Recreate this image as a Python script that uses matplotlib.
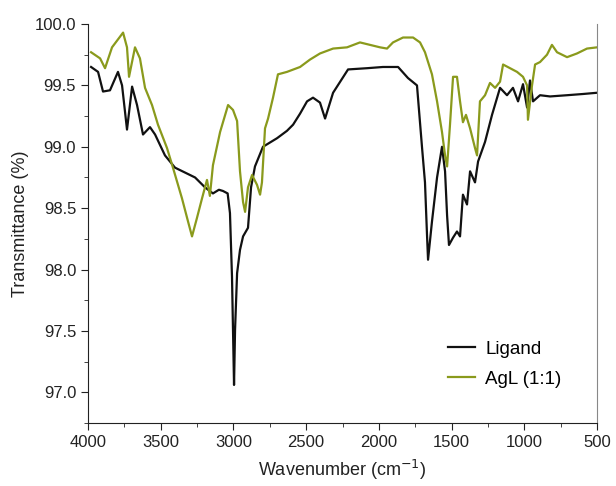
import matplotlib
matplotlib.use('Agg')
import matplotlib.pyplot as plt
from matplotlib.ticker import MultipleLocator, FormatStrFormatter

plt.rcParams['font.family'] = ['Liberation Sans', 'DejaVu Sans']

# ---- data ----
ligand_wn = [3979, 3931, 3897, 3849, 3794, 3766, 3732, 3697, 3663, 3622, 3574, 3539,
             3471, 3402, 3333, 3264, 3196, 3141, 3100, 3072, 3040, 3024, 3010, 2996,
             2989, 2975, 2955, 2934, 2900, 2879, 2852, 2797, 2700, 2632, 2590, 2542,
             2494, 2453, 2405, 2370, 2315, 2212, 2082, 1972, 1868, 1800, 1738, 1703,
             1683, 1669, 1662, 1635, 1600, 1566, 1545, 1531, 1518, 1490, 1463, 1442,
             1422, 1394, 1373, 1339, 1318, 1270, 1222, 1167, 1119, 1078, 1043, 1009,
             981, 961, 940, 892, 823, 706, 596, 500]
ligand_t = [99.65, 99.61, 99.45, 99.46, 99.61, 99.50, 99.14, 99.49, 99.34, 99.10, 99.16, 99.10,
            98.93, 98.83, 98.79, 98.75, 98.67, 98.62, 98.65, 98.64, 98.62, 98.46, 97.94, 97.06,
            97.51, 97.97, 98.16, 98.27, 98.34, 98.67, 98.84, 99.00, 99.07, 99.13, 99.18, 99.27,
            99.37, 99.40, 99.36, 99.23, 99.44, 99.63, 99.64, 99.65, 99.65, 99.56, 99.50, 98.99,
            98.71, 98.28, 98.08, 98.39, 98.75, 99.00, 98.80, 98.44, 98.20, 98.26, 98.31, 98.27,
            98.61, 98.53, 98.80, 98.71, 98.88, 99.04, 99.26, 99.48, 99.42, 99.48, 99.37, 99.51,
            99.32, 99.54, 99.37, 99.42, 99.41, 99.42, 99.43, 99.44]

agl_wn = [3979, 3917, 3883, 3835, 3759, 3732, 3718, 3677, 3643, 3608, 3560, 3519,
          3457, 3416, 3354, 3312, 3285, 3251, 3216, 3182, 3162, 3141, 3092, 3037,
          3003, 2975, 2955, 2934, 2920, 2900, 2872, 2838, 2817, 2804, 2783, 2762,
          2728, 2694, 2632, 2542, 2474, 2405, 2315, 2219, 2130, 2061, 1992, 1944,
          1903, 1834, 1765, 1717, 1683, 1635, 1600, 1566, 1545, 1531, 1511, 1490,
          1463, 1442, 1422, 1401, 1373, 1339, 1325, 1305, 1270, 1236, 1201, 1167,
          1146, 1098, 1050, 1009, 981, 975, 947, 926, 892, 844, 810, 775,
          706, 638, 569, 500]
agl_t = [99.77, 99.72, 99.64, 99.81, 99.93, 99.81, 99.57, 99.81, 99.72, 99.48, 99.34, 99.18,
         98.99, 98.83, 98.58, 98.39, 98.27, 98.42, 98.58, 98.73, 98.60, 98.85, 99.12, 99.34,
         99.30, 99.21, 98.80, 98.55, 98.47, 98.67, 98.77, 98.69, 98.61, 98.71, 99.15, 99.23,
         99.40, 99.59, 99.61, 99.65, 99.71, 99.76, 99.80, 99.81, 99.85, 99.83, 99.81, 99.80,
         99.85, 99.89, 99.89, 99.85, 99.77, 99.59, 99.37, 99.12, 98.93, 98.84, 99.18, 99.57,
         99.57, 99.37, 99.20, 99.26, 99.15, 98.99, 98.93, 99.37, 99.42, 99.52, 99.48, 99.53,
         99.67, 99.64, 99.61, 99.57, 99.50, 99.22, 99.50, 99.67, 99.69, 99.75, 99.83, 99.77,
         99.73, 99.76, 99.80, 99.81]

fig = plt.figure(figsize=(6.16, 4.86), dpi=100)
ax = fig.add_axes([0.1429, 0.1296, 0.8263, 0.821])

ax.plot(ligand_wn, ligand_t, color='#111111', lw=1.6, label='Ligand')
ax.plot(agl_wn, agl_t, color='#8a9a1c', lw=1.6, label='AgL (1:1)')

ax.set_xlim(4000, 500)
ax.set_ylim(96.75, 100.0)
ax.xaxis.set_major_locator(MultipleLocator(500))
ax.xaxis.set_minor_locator(MultipleLocator(250))
ax.yaxis.set_major_locator(MultipleLocator(0.5))
ax.yaxis.set_minor_locator(MultipleLocator(0.25))
ax.yaxis.set_major_formatter(FormatStrFormatter('%.1f'))

ax.spines['top'].set_visible(False)
ax.spines['right'].set_color('#888888')
for s in ('left', 'bottom'):
    ax.spines[s].set_color('#222222')
ax.tick_params(which='major', direction='out', length=5, labelsize=12, colors='#222222')
ax.tick_params(which='minor', direction='out', length=3, colors='#222222')

ax.set_xlabel('Wavenumber (cm$^{-1}$)', fontsize=13, color='#222222', labelpad=6)
ax.set_ylabel('Transmittance (%)', fontsize=13, color='#222222')

ax.legend(loc='center left', bbox_to_anchor=(0.692, 0.147), borderaxespad=0,
          frameon=False, fontsize=13.5, handlelength=1.45, handletextpad=0.55,
          labelspacing=0.7)

fig.savefig('out.png', dpi=100)
